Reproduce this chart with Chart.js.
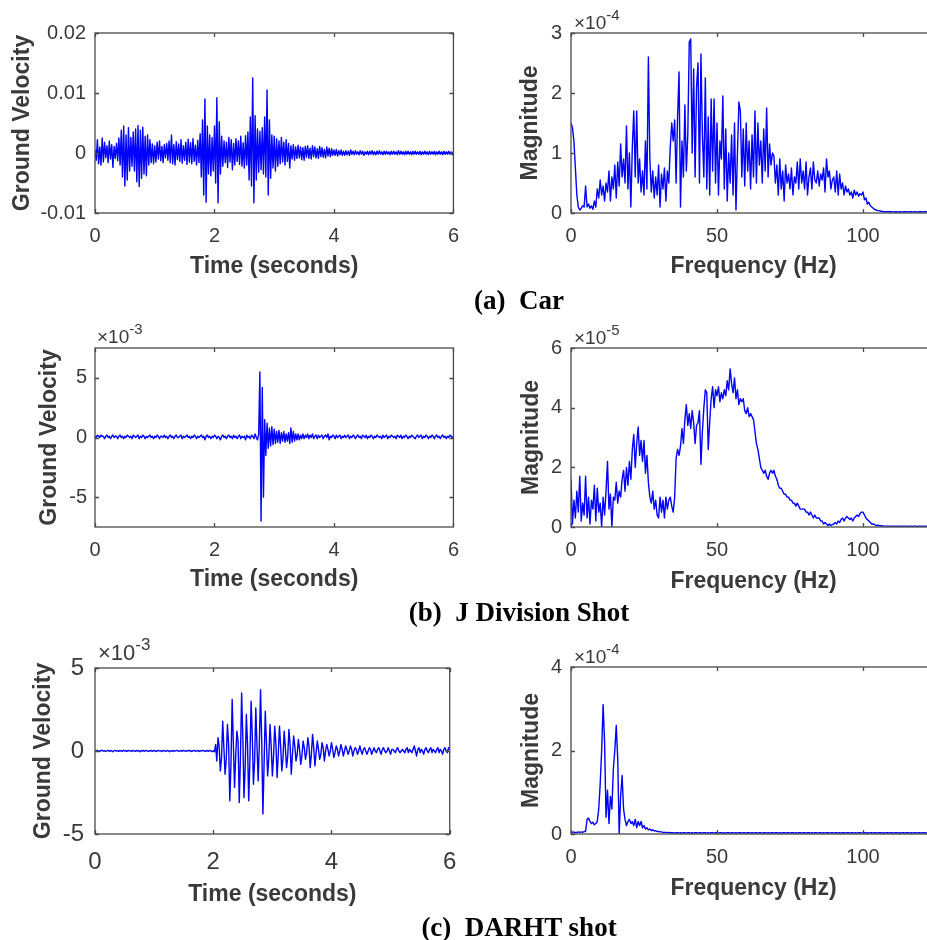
<!DOCTYPE html>
<html>
<head>
<meta charset="utf-8">
<script src="https://cdn.jsdelivr.net/npm/chart.js@4.4.1/dist/chart.umd.min.js"></script>
<style>
  html, body { margin: 0; padding: 0; background: #fff; overflow: hidden; }
  body { position: relative; width: 927px; height: 940px; }
  canvas { position: absolute; }
  .cap { position: absolute; transform: translateX(-50%); font: bold 27px 'Liberation Serif', 'Times New Roman', serif; white-space: pre; line-height: 30px; color: #000; }
</style>
</head>
<body>
<canvas id="carTime"></canvas>
<canvas id="carFreq"></canvas>
<canvas id="jTime"></canvas>
<canvas id="jFreq"></canvas>
<canvas id="darhtTime"></canvas>
<canvas id="darhtFreq"></canvas>
<div class="cap" style="left:519px;top:285px">(a)  Car</div>
<div class="cap" style="left:519px;top:597px">(b)  J Division Shot</div>
<div class="cap" style="left:519px;top:912px">(c)  DARHT shot</div>
<script>
// sample spacing of the recorded traces and of the spectra
const TIME_STEP = 0.02;
const FREQ_STEP = 0.5;

const TIME_TICKS = [0, 2, 4, 6];
const FREQ_TICKS = [0, 50, 100];
const CAR_VEL_TICKS = [-10, 0, 10, 20];   // x1e-3, printed as 0.01 etc.
const CAR_MAG_TICKS = [0, 1, 2, 3];       // x1e-4
const J_VEL_TICKS = [-5, 0, 5];           // x1e-3
const J_MAG_TICKS = [0, 2, 4, 6];         // x1e-5
const DARHT_VEL_TICKS = [-5, 0, 5];       // x1e-3
const DARHT_MAG_TICKS = [0, 2, 4];        // x1e-4

// car: ground velocity, x1e-3, every 0.02 s
const CAR_VEL = [
  0.5,-1.2,2.2,-1.8,1.0,-2.0,2.5,-1.5,1.8,-0.8,
  1.2,-1.6,2.0,-1.0,1.4,-2.4,1.1,-0.9,1.6,-1.3,
  2.5,-2.0,3.8,-4.0,4.5,-5.5,3.0,-4.5,4.2,-3.0,
  2.6,-2.2,3.5,-3.0,4.0,-4.8,4.6,-5.6,3.8,-4.2,
  4.3,-3.5,2.8,-3.8,3.0,-2.0,2.2,-1.6,1.5,-1.8,
  1.2,-1.5,1.8,-1.0,2.0,-1.3,1.1,-1.6,1.4,-0.8,
  1.6,-1.2,2.0,-1.6,3.0,-1.8,1.4,-2.0,1.9,-1.1,
  1.5,-1.4,2.2,-1.7,1.2,-1.2,1.8,-1.9,2.3,-1.5,
  1.7,-1.8,2.4,-1.4,1.3,-2.0,2.1,-1.6,3.2,-4.0,
  5.5,-7.0,9.0,-8.2,4.5,-3.5,3.0,-3.8,2.6,-3.0,
  4.5,-5.0,9.2,-8.3,5.2,-3.5,2.8,-2.2,2.0,-1.6,
  1.8,-2.4,2.6,-1.5,2.2,-2.8,1.6,-2.0,2.4,-1.4,
  2.0,-1.9,2.8,-2.2,1.7,-2.5,2.9,-2.0,3.5,-4.5,
  6.0,-5.5,12.5,-8.3,6.2,-4.5,4.0,-3.2,3.6,-2.8,
  4.2,-3.5,6.0,-4.0,10.5,-7.0,5.5,-4.2,3.0,-2.5,
  2.8,-3.0,2.4,-2.2,2.0,-1.8,2.6,-1.5,1.8,-2.0,
  2.2,-1.4,1.6,-2.5,1.2,-1.0,1.4,-1.2,1.0,-0.9,
  1.3,-0.8,1.0,-1.1,0.9,-1.2,1.1,-0.7,1.2,-0.9,
  0.8,-1.0,1.2,-0.6,1.0,-0.8,0.7,-0.9,1.1,-0.6,
  0.9,-0.7,0.6,-0.8,1.0,-0.5,0.8,-0.6,0.7,-0.4,
  0.5,-0.4,0.6,-0.5,0.4,-0.3,0.5,-0.4,0.3,-0.4,
  0.4,-0.3,0.3,-0.4,0.5,-0.2,0.3,-0.3,0.4,-0.2,
  0.2,-0.3,0.4,-0.2,0.3,-0.4,0.2,-0.2,0.3,-0.3,
  0.3,-0.2,0.4,-0.3,0.2,-0.3,0.3,-0.2,0.4,-0.2,
  0.2,-0.3,0.3,-0.2,0.3,-0.2,0.2,-0.3,0.3,-0.2,
  0.3,-0.2,0.2,-0.3,0.4,-0.2,0.3,-0.2,0.2,-0.3,
  0.3,-0.2,0.3,-0.2,0.2,-0.3,0.3,-0.2,0.3,-0.2,
  0.2,-0.2,0.3,-0.3,0.2,-0.2,0.3,-0.2,0.2,-0.3,
  0.3,-0.2,0.2,-0.2,0.3,-0.3,0.2,-0.2,0.3,-0.2,
  0.2,-0.3,0.3,-0.2,0.2,-0.2,0.3,-0.2,0.2,-0.3,
  0.2
];

// car: spectrum magnitude, x1e-4, every 0.5 Hz
const CAR_MAG = [
  1.50,1.42,1.20,0.75,0.30,0.10,0.05,0.08,0.12,0.10,
  0.45,0.10,0.15,0.08,0.12,0.06,0.20,0.10,0.40,0.25,
  0.55,0.30,0.45,0.20,0.50,0.35,0.70,0.20,0.60,0.40,
  0.80,0.25,0.85,0.45,1.15,0.60,0.90,0.50,1.45,0.40,
  1.00,0.10,1.10,1.70,0.60,1.70,0.50,0.90,0.35,0.70,
  0.30,1.20,0.40,2.60,0.90,0.35,0.70,0.25,0.60,0.30,
  0.80,0.10,0.65,0.40,0.75,0.20,0.70,0.50,1.10,1.50,
  1.20,1.55,0.50,1.60,2.35,0.10,1.20,0.60,1.80,0.70,
  1.30,2.85,2.90,1.00,2.40,0.60,2.10,2.50,0.50,2.65,
  1.30,0.60,2.25,0.40,1.60,0.30,1.90,0.70,1.90,0.50,
  1.50,0.30,1.20,0.90,1.95,0.40,1.40,0.20,1.00,0.50,
  1.30,0.30,1.50,0.05,1.00,1.85,1.70,0.60,1.40,0.45,
  1.50,0.70,1.20,0.40,1.30,0.60,1.70,0.50,1.50,0.80,
  1.20,0.50,1.40,0.70,1.75,0.60,1.15,0.80,1.00,0.95,
  0.50,0.80,0.30,0.90,0.40,0.70,0.20,0.80,0.50,0.65,
  0.40,0.75,0.30,0.60,0.50,0.85,0.40,0.90,0.50,0.70,
  0.40,0.85,0.30,0.60,0.75,0.40,0.85,0.55,0.50,0.70,
  0.45,0.65,0.55,0.75,0.35,0.90,0.60,0.70,0.40,0.55,
  0.60,0.35,0.70,0.30,0.65,0.40,0.50,0.30,0.45,0.35,
  0.40,0.30,0.35,0.25,0.38,0.30,0.35,0.28,0.32,0.30,
  0.35,0.22,0.25,0.15,0.18,0.12,0.10,0.08,0.06,0.05,
  0.04,0.04,0.03,0.03,0.02,0.02,0.02,0.02,0.02,0.02,
  0.02,0.015,0.02,0.02,0.015,0.02,0.02,0.015,0.02,0.02,
  0.02,0.015,0.02,0.02,0.015,0.02,0.02,0.015,0.02,0.02,
  0.02,0.015,0.02,0.02,0.015,0.02,0.02,0.015,0.02,0.02,
  0.02
];

// J Division shot: ground velocity, x1e-3, every 0.02 s
const J_VEL = [
  0.1,0.0,0.2,0.1,0.0,0.2,0.1,0.1,-0.1,0.1,
  0.2,0.0,0.1,-0.1,0.1,0.2,0.0,0.1,0.1,-0.1,
  0.1,0.2,0.0,0.1,-0.1,0.1,0.0,0.2,0.1,0.0,
  0.1,-0.1,0.2,0.1,0.0,0.1,0.2,-0.1,0.1,0.0,
  0.2,0.1,-0.1,0.1,0.0,0.1,0.2,0.0,0.1,-0.1,
  0.1,0.0,0.2,0.1,-0.1,0.1,0.1,0.0,0.2,0.0,
  0.1,-0.1,0.1,0.2,0.0,0.1,-0.1,0.1,0.2,0.0,
  0.0,0.1,0.2,-0.1,0.1,0.0,0.1,0.2,0.0,0.1,
  -0.1,0.1,0.0,0.2,0.1,-0.1,0.1,0.0,0.1,0.2,
  0.0,0.1,-0.2,0.1,0.2,0.0,0.1,-0.1,0.1,0.0,
  0.2,0.1,-0.1,0.1,0.0,-0.2,0.1,0.2,0.0,0.1,
  -0.1,0.1,0.2,0.0,0.1,-0.1,0.2,0.0,0.1,-0.1,
  0.1,0.2,-0.1,0.1,0.0,0.1,-0.2,0.2,0.0,0.1,
  -0.1,0.2,0.1,-0.1,0.3,0.0,-0.2,0.3,5.5,-7.0,
  4.2,-5.0,1.5,-1.5,1.2,-0.9,0.8,-0.7,0.9,-0.6,
  0.7,-0.5,0.5,-0.4,0.6,-0.5,0.4,-0.3,0.5,-0.4,
  0.3,-0.3,0.4,-0.5,0.8,-0.4,0.5,-0.3,0.3,-0.2,
  0.3,-0.2,0.2,-0.1,0.3,-0.1,0.2,0.0,0.3,-0.1,
  0.2,0.0,0.3,-0.1,0.1,0.2,-0.1,0.2,0.0,0.1,
  0.2,-0.1,0.1,0.2,0.0,0.3,-0.2,0.1,0.0,0.2,
  0.1,-0.1,0.2,0.0,0.1,0.2,-0.1,0.1,0.0,0.2,
  0.0,0.1,0.2,-0.1,0.1,0.0,0.2,0.1,-0.1,0.1,
  0.2,0.0,0.1,-0.1,0.2,0.1,0.0,0.2,-0.1,0.1,
  0.0,0.2,0.1,-0.1,0.1,0.0,0.2,0.1,0.0,0.1,
  -0.1,0.2,0.0,0.1,0.2,-0.1,0.1,0.0,0.2,0.1,
  0.0,0.1,-0.1,0.2,0.1,0.0,0.2,-0.1,0.1,0.0,
  0.2,0.1,-0.1,0.1,0.0,0.2,0.1,0.0,-0.1,0.1,
  0.2,0.0,0.1,0.2,-0.1,0.1,0.0,0.2,0.1,-0.1,
  0.1,0.0,0.2,0.1,-0.1,0.1,0.2,0.0,0.1,-0.1,
  0.1,0.2,0.0,0.1,-0.1,0.1,0.0,0.2,0.1,0.0,
  0.1
];

// J Division shot: spectrum magnitude, x1e-5, every 0.5 Hz
const J_MAG = [
  1.6,0.1,0.9,0.3,1.2,0.5,1.7,0.2,0.8,0.4,
  1.7,0.3,1.0,0.1,0.9,0.6,1.4,0.2,1.3,0.5,
  0.8,0.0,1.0,0.4,1.2,2.2,0.6,1.1,0.0,1.0,
  0.9,1.5,0.8,1.2,1.0,1.6,1.9,1.2,2.0,1.4,
  2.2,1.6,2.6,3.1,2.0,2.8,3.35,2.4,2.9,2.2,
  2.9,1.8,2.4,1.5,1.0,0.8,1.2,0.6,0.9,0.4,
  0.3,1.0,0.5,0.9,0.3,1.0,0.6,0.9,1.0,0.7,
  0.5,1.0,2.3,2.6,2.4,2.7,3.3,2.8,3.6,4.1,
  3.4,3.8,3.3,3.9,3.5,2.8,3.4,3.5,3.9,2.1,
  3.2,4.0,4.6,4.5,2.6,3.5,4.3,4.7,4.0,4.6,
  4.4,4.7,4.2,4.5,4.3,4.6,4.4,4.9,4.6,5.3,
  4.8,4.5,5.0,4.3,4.6,4.1,4.3,4.2,4.3,3.9,
  3.8,4.0,3.7,3.8,3.7,3.6,3.2,2.8,2.6,2.3,
  2.0,1.9,1.8,1.9,1.7,1.6,1.8,1.9,1.8,1.9,
  1.7,1.6,1.4,1.3,1.3,1.2,1.1,1.1,1.0,1.0,
  0.9,0.9,0.8,0.8,0.7,0.8,0.7,0.6,0.6,0.6,
  0.6,0.5,0.5,0.4,0.5,0.4,0.3,0.4,0.3,0.3,
  0.3,0.2,0.2,0.1,0.15,0.1,0.05,0.1,0.05,0.08,
  0.1,0.15,0.1,0.2,0.15,0.25,0.3,0.2,0.3,0.35,
  0.3,0.25,0.3,0.2,0.3,0.35,0.4,0.35,0.45,0.5,
  0.5,0.4,0.3,0.25,0.2,0.15,0.1,0.1,0.08,0.05,
  0.06,0.05,0.04,0.04,0.03,0.03,0.03,0.03,0.03,0.03,
  0.03,0.02,0.03,0.03,0.02,0.03,0.03,0.02,0.03,0.03,
  0.03,0.02,0.03,0.03,0.02,0.03,0.03,0.02,0.03,0.03,
  0.03,0.02,0.03,0.03,0.02,0.03,0.03,0.02,0.03,0.03,
  0.03
];

// DARHT shot: ground velocity, x1e-3, every 0.02 s
const DARHT_VEL = [
  0.03,-0.02,0.04,0.0,-0.03,0.02,0.05,-0.01,0.02,-0.03,
  0.01,0.04,-0.02,0.03,0.0,-0.04,0.02,0.03,-0.01,0.02,
  -0.02,0.03,0.01,-0.03,0.04,0.0,0.02,-0.02,0.03,0.01,
  0.02,-0.03,0.04,0.01,-0.02,0.03,0.0,0.02,-0.04,0.03,
  0.0,0.03,-0.02,0.04,0.01,-0.03,0.02,0.0,0.03,-0.02,
  0.04,0.0,-0.03,0.02,0.03,-0.01,0.02,-0.03,0.04,0.01,
  -0.02,0.03,0.02,-0.04,0.01,0.03,-0.02,0.02,0.0,0.04,
  0.02,-0.03,0.01,0.03,-0.02,0.04,0.0,-0.02,0.03,0.01,
  0.03,0.0,-0.03,0.02,0.04,-0.02,0.01,0.03,-0.03,0.02,
  -0.01,0.04,0.02,-0.03,0.0,0.03,-0.02,0.04,0.01,-0.04,
  0.02,-0.05,0.4,-0.6,0.8,0.3,-1.2,-0.4,1.8,0.2,
  -1.4,-0.5,1.6,0.4,-3.0,-0.8,3.1,0.5,-2.2,-0.3,
  1.2,0.6,-3.1,-0.4,3.5,0.9,-2.8,-1.0,2.2,0.4,
  -3.0,-0.6,3.0,1.0,-2.0,-0.6,2.6,0.3,-1.8,0.5,
  3.7,0.6,-3.8,-0.8,2.4,0.5,-1.5,-0.4,1.6,0.3,
  -1.5,-0.3,1.5,0.4,-1.6,-0.2,1.5,0.3,-1.2,-0.4,
  1.2,0.2,-1.0,-0.3,1.3,0.4,-1.4,-0.2,0.9,0.3,
  -0.6,-0.2,0.7,0.1,-0.8,-0.3,0.6,0.2,-0.5,-0.1,
  0.8,0.3,-1.0,-0.2,1.0,0.2,-0.9,-0.1,0.6,0.1,
  -0.5,-0.2,0.5,0.2,-0.6,0.0,0.4,0.1,-0.3,0.0,
  0.5,0.1,-0.4,-0.1,0.3,0.1,-0.3,0.0,0.4,0.1,
  -0.3,0.0,0.3,0.1,-0.2,0.0,0.3,0.1,-0.3,0.0,
  0.2,0.1,-0.2,0.0,0.3,0.0,-0.2,0.1,0.2,0.0,
  -0.2,0.0,0.2,0.1,-0.2,0.0,0.2,0.0,-0.1,0.1,
  0.2,0.0,-0.2,0.1,0.2,0.0,-0.1,0.0,0.2,0.0,
  -0.2,0.1,0.1,0.0,-0.1,0.1,0.2,0.0,-0.1,0.0,
  0.1,0.0,-0.1,0.1,0.2,-0.1,0.1,0.0,-0.1,0.1,
  0.3,0.0,-0.3,0.1,0.2,-0.1,0.1,0.0,-0.2,0.1,
  0.2,0.0,-0.1,0.1,0.2,-0.1,0.1,0.0,-0.1,0.1,
  0.2,-0.1,0.1,0.0,-0.2,0.1,0.2,0.0,-0.1,0.2,
  0.1
];

// DARHT shot: spectrum magnitude, x1e-4, every 0.5 Hz
const DARHT_MAG = [
  0.05,0.04,0.05,0.03,0.04,0.05,0.04,0.05,0.04,0.06,
  0.06,0.35,0.38,0.3,0.25,0.28,0.22,0.25,0.3,0.6,
  1.2,2.0,3.1,2.2,0.4,1.05,0.25,0.9,0.6,1.55,
  2.0,2.6,1.8,0.0,0.9,1.4,0.6,0.35,0.2,0.3,
  0.35,0.25,0.3,0.2,0.35,0.15,0.3,0.2,0.3,0.15,
  0.2,0.12,0.15,0.1,0.12,0.08,0.1,0.07,0.08,0.06,
  0.06,0.05,0.05,0.04,0.04,0.04,0.03,0.04,0.03,0.03,
  0.03,0.02,0.03,0.03,0.02,0.03,0.02,0.03,0.03,0.02,
  0.03,0.03,0.02,0.03,0.02,0.03,0.03,0.02,0.03,0.03,
  0.02,0.03,0.03,0.02,0.03,0.02,0.03,0.03,0.02,0.03,
  0.03,0.02,0.03,0.03,0.02,0.03,0.02,0.03,0.03,0.02,
  0.03,0.03,0.02,0.03,0.02,0.03,0.03,0.02,0.03,0.03,
  0.02,0.03,0.03,0.02,0.03,0.02,0.03,0.03,0.02,0.03,
  0.03,0.02,0.03,0.03,0.02,0.03,0.02,0.03,0.03,0.02,
  0.03,0.03,0.02,0.03,0.02,0.03,0.03,0.02,0.03,0.03,
  0.02,0.03,0.03,0.02,0.03,0.02,0.03,0.03,0.02,0.03,
  0.03,0.02,0.03,0.03,0.02,0.03,0.02,0.03,0.03,0.02,
  0.03,0.03,0.02,0.03,0.02,0.03,0.03,0.02,0.03,0.03,
  0.02,0.03,0.03,0.02,0.03,0.02,0.03,0.03,0.02,0.03,
  0.03,0.02,0.03,0.03,0.02,0.03,0.02,0.03,0.03,0.02,
  0.03,0.03,0.02,0.03,0.02,0.03,0.03,0.02,0.03,0.03,
  0.02,0.03,0.03,0.02,0.03,0.02,0.03,0.03,0.02,0.03,
  0.03,0.02,0.03,0.03,0.02,0.03,0.02,0.03,0.03,0.02,
  0.03,0.03,0.02,0.03,0.02,0.03,0.03,0.02,0.03,0.03,
  0.02,0.03,0.03,0.02,0.03,0.02,0.03,0.03,0.02,0.03,
  0.03
];

const SANS = "'Liberation Sans', Arial, Helvetica, sans-serif";
const TEXT = '#3a3a3a';
const AXIS = '#4a4a4a';
const TRACE = '#0000ff';

// closed box with inward tick marks, plus the x10^n multiplier above the axes
const boxAxes = {
  id: 'boxAxes',
  afterDraw(chart, args, opts) {
    const { ctx, chartArea: a, scales: { x, y } } = chart;
    const tl = 4;
    ctx.save();
    ctx.strokeStyle = AXIS;
    ctx.lineWidth = 1.3;
    ctx.strokeRect(a.left, a.top, a.right - a.left, a.bottom - a.top);
    ctx.beginPath();
    x.ticks.forEach((t) => {
      const px = Math.round(x.getPixelForValue(t.value)) + 0.5;
      ctx.moveTo(px, a.bottom); ctx.lineTo(px, a.bottom - tl);
      ctx.moveTo(px, a.top); ctx.lineTo(px, a.top + tl);
    });
    y.ticks.forEach((t) => {
      const py = Math.round(y.getPixelForValue(t.value)) + 0.5;
      ctx.moveTo(a.left, py); ctx.lineTo(a.left + tl, py);
      ctx.moveTo(a.right, py); ctx.lineTo(a.right - tl, py);
    });
    ctx.stroke();
    if (opts.exp) {
      const fs = opts.size;
      const x0 = a.left + opts.dx;
      const y0 = a.top - opts.dy;
      ctx.fillStyle = TEXT;
      ctx.textAlign = 'left';
      ctx.textBaseline = 'alphabetic';
      ctx.font = `${fs}px ${SANS}`;
      ctx.fillText('\u00d710', x0, y0);
      const w = ctx.measureText('\u00d710').width;
      ctx.font = `${Math.round(fs * 0.78)}px ${SANS}`;
      ctx.fillText(opts.exp, x0 + w, y0 - fs * 0.45);
    }
    ctx.restore();
  }
};

// box = [left, right, top, bottom] of the plot area on the page
const panels = [
  { id: 'carTime', values: CAR_VEL, step: TIME_STEP, xMax: 6, xTicks: TIME_TICKS, yMin: -10, yMax: 20, yTicks: CAR_VEL_TICKS,
    yFmt: (v) => (v === 0 ? '0' : String(v / 1000)), xTitle: 'Time (seconds)', yTitle: 'Ground Velocity',
    col: 0, box: [95, 458, 33, 213], xTitleY: 267, yTitleX: 23, xTickY: 236, yTickR: 86, tickSize: 20 },
  { id: 'carFreq', values: CAR_MAG, step: FREQ_STEP, xMax: 125, xTicks: FREQ_TICKS, yMin: 0, yMax: 3, yTicks: CAR_MAG_TICKS,
    xTitle: 'Frequency (Hz)', yTitle: 'Magnitude', exp: '-4', expDx: 3, expDy: 4,
    col: 470, box: [571, 936, 33, 213], xTitleY: 267, yTitleX: 531, xTickY: 236, yTickR: 562, tickSize: 20 },
  { id: 'jTime', values: J_VEL, step: TIME_STEP, xMax: 6, xTicks: TIME_TICKS, yMin: -7.5, yMax: 7.5, yTicks: J_VEL_TICKS,
    xTitle: 'Time (seconds)', yTitle: 'Ground Velocity', exp: '-3', expDx: 2, expDy: 5,
    col: 0, box: [95, 458, 348, 527], xTitleY: 580, yTitleX: 50, xTickY: 550, yTickR: 87, tickSize: 20 },
  { id: 'jFreq', values: J_MAG, step: FREQ_STEP, xMax: 125, xTicks: FREQ_TICKS, yMin: 0, yMax: 6, yTicks: J_MAG_TICKS,
    xTitle: 'Frequency (Hz)', yTitle: 'Magnitude', exp: '-5', expDx: 3, expDy: 4,
    col: 470, box: [571, 936, 348, 527], xTitleY: 582, yTitleX: 532, xTickY: 550, yTickR: 562, tickSize: 20 },
  { id: 'darhtTime', values: DARHT_VEL, step: TIME_STEP, xMax: 6, xTicks: TIME_TICKS, yMin: -5, yMax: 5, yTicks: DARHT_VEL_TICKS,
    xTitle: 'Time (seconds)', yTitle: 'Ground Velocity', exp: '-3', expDx: 3, expDy: 8, expSize: 22,
    col: 0, box: [95, 458, 668, 834], xTitleY: 895, yTitleX: 44, xTickY: 862, yTickR: 84, tickSize: 24 },
  { id: 'darhtFreq', values: DARHT_MAG, step: FREQ_STEP, xMax: 125, xTicks: FREQ_TICKS, yMin: 0, yMax: 4, yTicks: DARHT_MAG_TICKS,
    xTitle: 'Frequency (Hz)', yTitle: 'Magnitude', exp: '-4', expDx: 3, expDy: 4,
    col: 470, box: [571, 936, 667, 834], xTitleY: 889, yTitleX: 532, xTickY: 857, yTickR: 562, tickSize: 20 }
];

const TITLE_SIZE = 23;
const titleHalf = TITLE_SIZE * 1.2 / 2;

const makePanel = (p) => {
  const [L, R, T, B] = p.box;
  const top = T - 35;
  const width = p.col === 0 ? 470 : R - p.col;
  const height = Math.round(p.xTitleY + 18 - top);
  const el = document.getElementById(p.id);
  el.width = width;
  el.height = height;
  el.style.left = `${p.col}px`;
  el.style.top = `${top}px`;

  const tickFont = { family: SANS, size: p.tickSize };
  const titleFont = { family: SANS, size: TITLE_SIZE, weight: 'bold' };

  new Chart(el, {
    type: 'line',
    data: {
      datasets: [{
        data: p.values.map((v, i) => ({ x: i * p.step, y: v })),
        borderColor: TRACE,
        borderWidth: 1.4,
        borderJoinStyle: 'round',
        pointRadius: 0,
        tension: 0,
        fill: false
      }]
    },
    options: {
      responsive: false,
      animation: false,
      devicePixelRatio: 1,
      events: [],
      layout: { autoPadding: false, padding: { top: 35, right: width - (R - p.col), bottom: 0, left: 0 } },
      plugins: {
        legend: { display: false },
        tooltip: { enabled: false },
        boxAxes: { exp: p.exp, dx: p.expDx || 0, dy: p.expDy || 0, size: p.expSize || 19 }
      },
      scales: {
        x: {
          type: 'linear',
          min: 0,
          max: p.xMax,
          grid: { display: false, drawTicks: false },
          border: { display: false },
          afterBuildTicks: (s) => { s.ticks = p.xTicks.map((value) => ({ value })); },
          afterFit: (s) => { s.height = height - (B - top); },
          ticks: {
            font: tickFont, color: TEXT, autoSkip: false, maxRotation: 0,
            padding: p.xTickY - B - p.tickSize * 0.6,
            callback: (v) => String(v)
          },
          title: { display: true, text: p.xTitle, font: titleFont, color: TEXT, padding: { top: 0, bottom: 18 - titleHalf } }
        },
        y: {
          min: p.yMin,
          max: p.yMax,
          grid: { display: false, drawTicks: false },
          border: { display: false },
          afterBuildTicks: (s) => { s.ticks = p.yTicks.map((value) => ({ value })); },
          afterFit: (s) => { s.width = L - p.col; },
          ticks: {
            font: tickFont, color: TEXT, autoSkip: false,
            padding: L - p.yTickR,
            callback: p.yFmt || ((v) => String(v))
          },
          title: { display: true, text: p.yTitle, font: titleFont, color: TEXT, padding: { top: p.yTitleX - p.col - titleHalf, bottom: 0 } }
        }
      }
    },
    plugins: [boxAxes]
  });
};

panels.forEach(makePanel);
</script>
</body>
</html>
